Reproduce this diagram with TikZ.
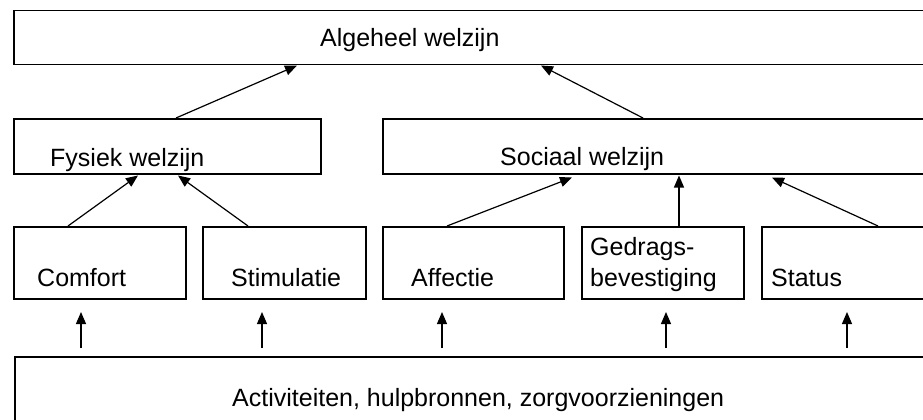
\documentclass[tikz,border=0pt]{standalone}
\usepackage{fontspec}
\setmainfont{Liberation Sans}
\usetikzlibrary{arrows.meta}
\begin{document}
\begin{tikzpicture}[x=1pt,y=-1pt,
  box/.style={draw, line width=1.5pt, inner sep=0pt, anchor=north west},
  lbl/.style={inner sep=0pt, anchor=base west, font=\fontsize{25pt}{30pt}\selectfont},
  arr/.style={line width=1.2pt, -{Triangle[length=12pt,width=10pt]}}]
\useasboundingbox (0,0) rectangle (923,420);
\clip (0,0) rectangle (923,420);
\fill[white] (0,0) rectangle (923,420);
% boxes
\node[box, minimum width=927pt, minimum height=54pt] (top) at (13,10) {};
\node[box, minimum width=307pt, minimum height=55pt] (fys) at (13,118) {};
\node[box, minimum width=558pt, minimum height=55pt] (soc) at (382,118) {};
\node[box, minimum width=172pt, minimum height=72pt] (comf) at (13,226) {};
\node[box, minimum width=163pt, minimum height=72pt] (stim) at (202,226) {};
\node[box, minimum width=181pt, minimum height=72pt] (aff) at (382,226) {};
\node[box, minimum width=162pt, minimum height=72pt] (gedr) at (581,226) {};
\node[box, minimum width=179pt, minimum height=72pt] (stat) at (761,226) {};
\node[box, minimum width=926pt, minimum height=90pt] (bot) at (14,356) {};
% labels
\node[lbl] (ltop) at (320,47) {Algeheel welzijn};
\node[lbl] (lfys) at (50,166) {Fysiek welzijn};
\node[lbl] (lsoc) at (500,165) {Sociaal welzijn};
\node[lbl] (lcomf) at (37,286) {Comfort};
\node[lbl] (lstim) at (231,286) {Stimulatie};
\node[lbl] (laff) at (411,286) {Affectie};
\node[lbl] (lgedr1) at (590,255) {Gedrags-};
\node[lbl] (lgedr2) at (590,286) {bevestiging};
\node[lbl] (lstat) at (771,286) {Status};
\node[lbl] (lbot) at (232,406) {Activiteiten, hulpbronnen, zorgvoorzieningen};
% arrows between levels
\draw[arr] ([xshift=55pt]comf.north west) -- ([xshift=125pt,yshift=-1pt]fys.south west);
\draw[arr] ([xshift=46pt]stim.north west) -- ([xshift=165pt,yshift=-1pt]fys.south west);
\draw[arr] ([xshift=65pt]aff.north west) -- ([xshift=190pt,yshift=-3pt]soc.south west);
\draw[arr] ([xshift=98pt]gedr.north west) -- ([xshift=297pt,yshift=-1pt]soc.south west);
\draw[arr] ([xshift=117pt]stat.north west) -- ([xshift=390pt,yshift=-3pt]soc.south west);
\draw[arr] ([xshift=163pt]fys.north west) -- ([xshift=284pt]top.south west);
\draw[arr] ([xshift=261pt]soc.north west) -- ([xshift=528pt]top.south west);
% arrows from bottom
\foreach \dx/\nm in {67/a1,248/a2,428/a3,652/a4,833/a5}{
  \coordinate (\nm s) at ([xshift=\dx pt,yshift=8pt]bot.north west);
  \coordinate (\nm e) at ([xshift=\dx pt,yshift=44pt]bot.north west);
  \draw[arr] (\nm s) -- (\nm e);
}
\end{tikzpicture}
\end{document}
